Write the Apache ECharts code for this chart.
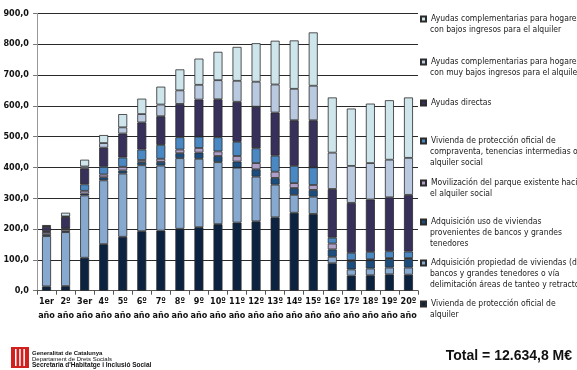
<!DOCTYPE html>
<html>
<head>
<meta charset="utf-8">
<script src="https://cdn.jsdelivr.net/npm/echarts@6/dist/echarts.min.js"></script>
<style>
html,body{margin:0;padding:0;background:#fff}
#chart{width:577px;height:370px}
</style>
</head>
<body>
<div id="chart"></div>
<script>
// Years of the plan (x axis)
const years = ['1er año','2º año','3er año','4º año','5º año','6º año','7º año','8º año','9º año','10º año',
  '11º año','12º año','13º año','14º año','15º año','16º año','17º año','18º año','19º año','20º año'];

// Y axis ticks (M€)
const yTicks = [0,100,200,300,400,500,600,700,800,900];

// Investment per programme and year, M€ (stacked bottom to top)
const vpoAlquiler     = [14,15,107,151,175,193,195,201,206,216,221,225,238,253,249,89,49,50,53,52];
const adqPropiedad    = [163,175,202,207,205,214,211,229,222,201,178,145,106,58,56,21,20,22,22,23];
const adqUso          = [6,3,6,10,10,10,12,16,20,20,20,24,22,22,22,24,27,27,28,28];
const movilizacion    = [7,7,9,9,12,7,10,12,15,15,18,20,20,16,16,19,3,3,3,3];
const vpoCompraventa  = [3,2,21,25,30,34,45,40,37,46,46,48,52,56,57,19,24,24,22,21];
const ayudasDirectas  = [14,37,52,62,78,88,93,108,120,123,130,135,140,148,153,158,162,170,175,184];
const ayudasMuyBajos  = [2,2,6,15,20,27,38,44,48,62,68,81,91,102,112,118,120,118,122,120];
const ayudasBajos     = [4,12,22,26,43,50,58,68,85,92,110,125,142,157,173,179,186,193,193,196];

const totalText = 'Total = 12.634,8 M€';

const FONT = '"Liberation Sans Narrow","DejaVu Sans Condensed","Liberation Sans",sans-serif';
const LEGEND_FONT = '8.5px ' + FONT;

// Series definitions: legend text lines, values, fill colour
const seriesDefs = [
  {lines:['Vivienda de protección oficial de','alquiler'], data:vpoAlquiler, color:'#0b2341'},
  {lines:['Adquisición propiedad de viviendas (de','bancos y grandes tenedores o vía','delimitación áreas de tanteo y retracto)'], data:adqPropiedad, color:'#87a9cf'},
  {lines:['Adquisición uso de viviendas','provenientes de bancos y grandes','tenedores'], data:adqUso, color:'#1b4d7e'},
  {lines:['Movilización del parque existente hacia','el alquiler social'], data:movilizacion, color:'#ae9fc9'},
  {lines:['Vivienda de protección oficial de','compraventa, tenencias intermedias o','alquiler social'], data:vpoCompraventa, color:'#4a88c4'},
  {lines:['Ayudas directas'], data:ayudasDirectas, color:'#37305a'},
  {lines:['Ayudas complementarias para hogares','con muy bajos ingresos para el alquiler'], data:ayudasMuyBajos, color:'#b9c9e0'},
  {lines:['Ayudas complementarias para hogares','con bajos ingresos para el alquiler'], data:ayudasBajos, color:'#cde5eb'}
];

// Vertical centre of each legend entry's first line, top entry first
const legendFirstLine = [19, 62, 103, 141, 183, 222, 263, 304];
const LH = 11;
const LEGEND_X = 420;
const LEGEND_TEXT_X = LEGEND_X + 5 + 5;

const series = seriesDefs.map(s => ({
  name: s.lines.join(' '),
  type: 'bar',
  stack: 'total',
  barWidth: 9,
  data: s.data,
  itemStyle: {color: s.color, borderColor: '#2b2b2b', borderWidth: 0.8},
  emphasis: {disabled: true}
}));

const ordered = seriesDefs.slice().reverse();

// One legend per entry: swatch plus first text line
const legends = ordered.map((s, i) => ({
  data: [s.lines.join(' ')],
  left: LEGEND_X,
  top: legendFirstLine[i] - LH / 2,
  orient: 'vertical',
  padding: 0,
  itemWidth: 5,
  itemHeight: 5,
  selectedMode: false,
  icon: 'rect',
  formatter: () => s.lines[0],
  textStyle: {fontFamily: FONT, fontSize: 8.5, lineHeight: LH, color: '#1a1a1a'}
}));

// Continuation lines of the legend labels
const legendRest = [];
ordered.forEach((s, i) => {
  s.lines.slice(1).forEach((t, k) => {
    legendRest.push({type: 'text', x: LEGEND_TEXT_X, y: legendFirstLine[i] + (k + 1) * LH,
      style: {text: t, font: LEGEND_FONT, fill: '#1a1a1a', verticalAlign: 'middle'}});
  });
});

const chart = echarts.init(document.getElementById('chart'), null, {renderer: 'canvas'});
chart.setOption({
  animation: false,
  backgroundColor: '#fff',
  grid: {left: 37, right: 159, top: 13.3, bottom: 79.3, containLabel: false},
  legend: legends,
  xAxis: {
    type: 'category',
    data: years,
    axisLine: {lineStyle: {color: '#555', width: 1}},
    axisTick: {show: true, length: 4, lineStyle: {color: '#555'}},
    axisLabel: {
      margin: 4, fontFamily: FONT, fontSize: 9, fontWeight: 'bold', color: '#111', lineHeight: 14,
      interval: 0,
      formatter: v => v.split(' ').join('\n')
    }
  },
  yAxis: {
    type: 'value',
    min: yTicks[0],
    max: yTicks[yTicks.length - 1],
    interval: yTicks[1] - yTicks[0],
    axisLine: {show: true, lineStyle: {color: '#999'}},
    axisTick: {show: true, length: 4, lineStyle: {color: '#777'}},
    splitLine: {lineStyle: {color: '#2a2a2a', width: 1.2}},
    axisLabel: {
      margin: 8, fontFamily: FONT, fontSize: 9, fontWeight: 'bold', color: '#111',
      formatter: v => v.toFixed(1).replace('.', ',')
    }
  },
  series: series,
  graphic: legendRest.concat([
    {type: 'text', right: 5, top: 349,
      style: {text: totalText, font: 'bold 14px "Liberation Sans", Arial, sans-serif', fill: '#111'}},
    // Generalitat de Catalunya emblem and department
    {type: 'group', left: 11, top: 347, children: [
      {type: 'rect', shape: {x: 0, y: 0, width: 18, height: 21}, style: {fill: '#d2201f'}},
      {type: 'rect', shape: {x: 4, y: 2, width: 1.5, height: 17}, style: {fill: '#fff'}},
      {type: 'rect', shape: {x: 8.2, y: 2, width: 1.5, height: 17}, style: {fill: '#fff'}},
      {type: 'rect', shape: {x: 12.4, y: 2, width: 1.5, height: 17}, style: {fill: '#fff'}}
    ]},
    {type: 'text', left: 32, top: 350,
      style: {text: 'Generalitat de Catalunya', font: 'bold 6px "Liberation Sans", Arial, sans-serif', fill: '#111'}},
    {type: 'text', left: 32, top: 356,
      style: {text: 'Departament de Drets Socials', font: '6px "Liberation Sans", Arial, sans-serif', fill: '#111'}},
    {type: 'text', left: 32, top: 362,
      style: {text: "Secretaria d'Habitatge i Inclusió Social", font: 'bold 6.5px "Liberation Sans", Arial, sans-serif', fill: '#111'}}
  ])
});
</script>
</body>
</html>
